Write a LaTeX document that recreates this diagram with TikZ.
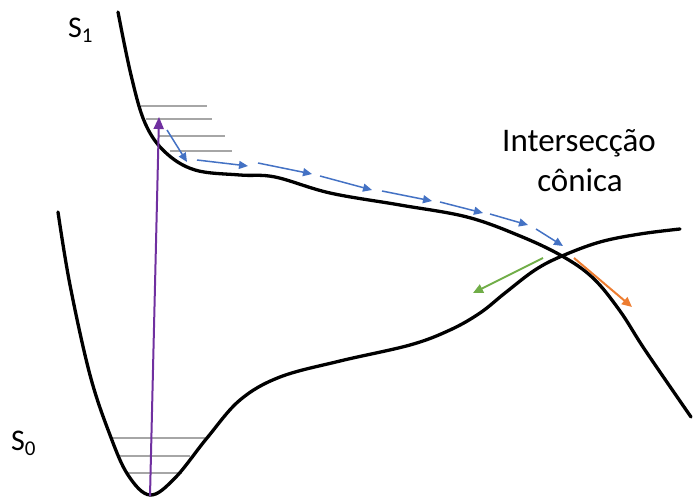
\documentclass[tikz,border=0pt]{standalone}
\usepackage{fontspec}
\setmainfont{Carlito}
\usetikzlibrary{arrows.meta}
\definecolor{bluearr}{HTML}{4472C4}
\definecolor{purparr}{HTML}{7030A0}
\definecolor{greenarr}{HTML}{70AD47}
\definecolor{orangearr}{HTML}{ED7D31}
\definecolor{greyline}{HTML}{A6A6A6}
\tikzset{
  pes/.style={line width=3.3pt, black, line cap=round},
  vib/.style={line width=1.1pt, greyline},
  hop/.style={line width=1.5pt, bluearr, -{Triangle[length=9pt,width=8pt]}},
  colarr/.style={line width=2pt, -{Triangle[length=10pt,width=9pt]}},
  lbl/.style={font=\fontsize{30}{36}\selectfont, inner sep=0pt, anchor=base west},
  big/.style={font=\fontsize{33}{40}\selectfont, inner sep=0pt, anchor=base},
}
\begin{document}
\begin{tikzpicture}[x=1pt,y=-1pt]
\useasboundingbox (0,0) rectangle (693,497);
% vibrational levels S1
\draw[vib] (141,106) -- (207,106);
\draw[vib] (146,119) -- (212,119);
\draw[vib] (158,136) -- (225,136);
\draw[vib] (170,151) -- (232,151);
% vibrational levels S0
\draw[vib] (111,438) -- (205,438);
\draw[vib] (118,456) -- (190,456);
\draw[vib] (126,473) -- (182,473);
% S1 curve
\draw[pes] plot[smooth, tension=0.6] coordinates {(118,12) (131,75) (145,123) (165,152) (195,170) (240,175) (275,177) (330,193) (400,205) (467,217) (520,236) (562,256) (593,278) (620,311) (645,350) (691,417)};
% S0 curve
\draw[pes] plot[smooth, tension=0.6] coordinates {(58,212) (70,285) (90,375) (110,435) (128,475) (150,495) (175,478) (207,438) (240,400) (280,377) (340,361) (410,345) (450,330) (480,313) (505,293) (535,270) (562,256) (600,242) (640,234) (680,229)};
% excitation
\coordinate (ex0) at (150,496);
\coordinate (ex1) at (159,117);
\draw[colarr, purparr, -{Triangle[length=12pt,width=10pt]}] (ex0) -- (ex1);
% relaxation path
\foreach \a/\b in {{(167,130)}/{(187,162)}, {(197,160)}/{(248,166)}, {(258,163)}/{(312,174)}, {(320,176)}/{(372,190)}, {(382,191)}/{(432,201)}, {(440,202)}/{(483,213)}, {(490,214)}/{(528,225)}, {(536,229)}/{(563,246)}}
  \draw[hop] \a -- \b;
% branching
\coordinate (ci) at (562,256);
\draw[colarr, greenarr] (543,258) -- (473,293);
\draw[colarr, orangearr] (574,258) -- (632,307);
% labels
\node[big] (ctext) at (579,152) {Intersecção};
\node[big] (ctext2) at (580,192) {cônica};
\node[lbl] (s1) at (68,38) {S\textsubscript{1}};
\node[lbl] (s0) at (11,450) {S\textsubscript{0}};
\end{tikzpicture}
\end{document}
